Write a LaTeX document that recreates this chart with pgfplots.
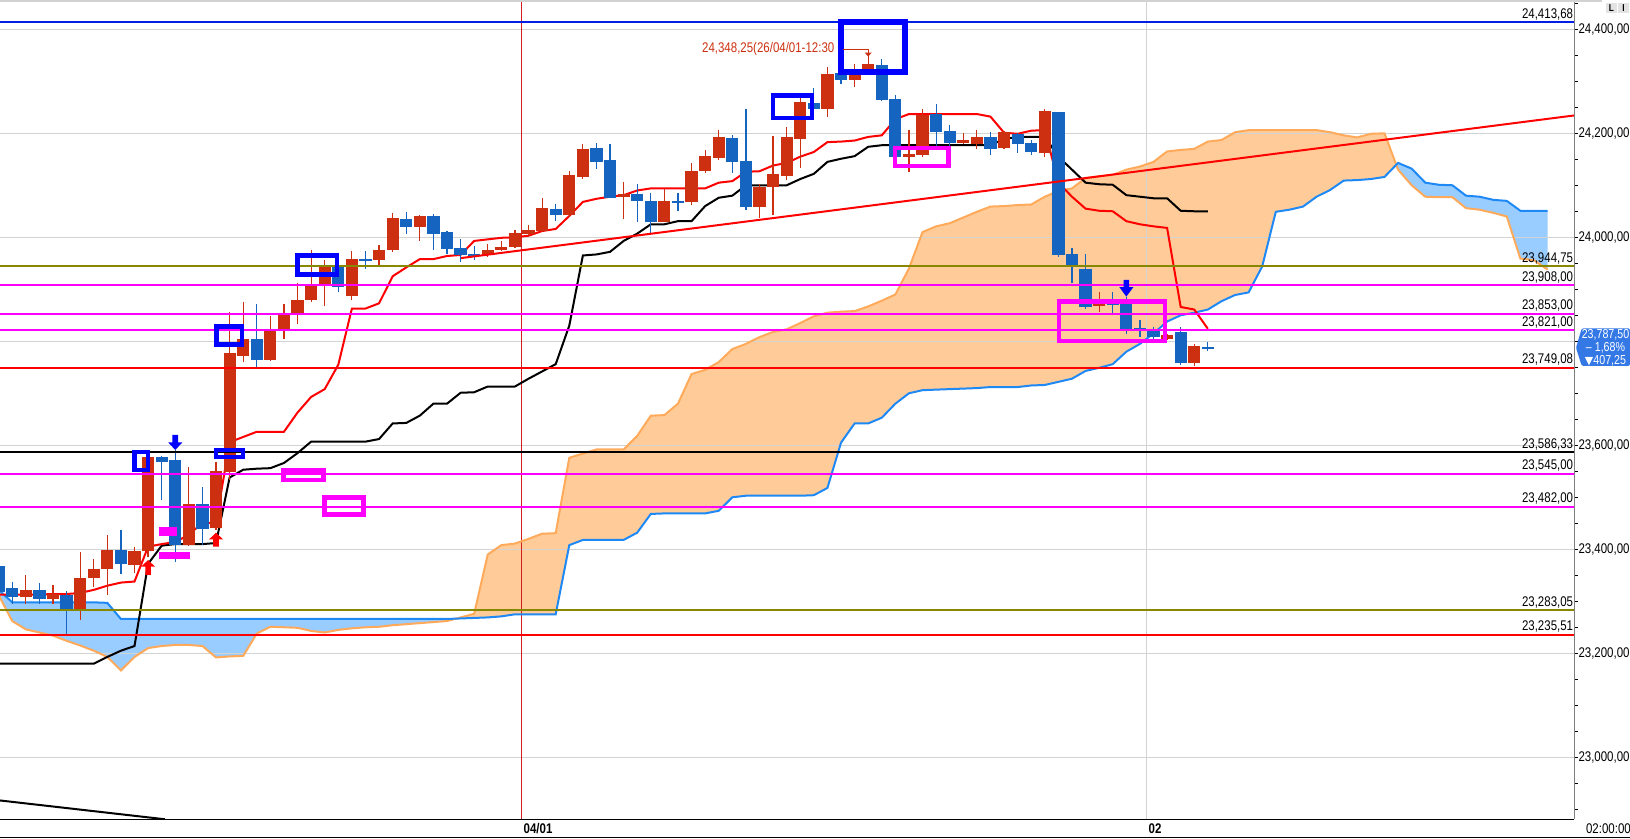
\documentclass[border=0pt]{standalone}
\usepackage{fontspec}
\setmainfont{Liberation Sans}[FakeStretch=0.82]
\newfontfamily\symfont{DejaVu Sans}
\usepackage{pgfplots}
\pgfplotsset{compat=1.18}
\usepackage{pgfplotstable}
\usepgfplotslibrary{fillbetween}

\definecolor{upred}{RGB}{204,48,16}
\definecolor{dnblue}{RGB}{21,101,192}
\definecolor{spanbline}{RGB}{30,136,245}
\definecolor{spanbfill}{RGB}{153,204,255}
\definecolor{spanaline}{RGB}{255,170,90}
\definecolor{spanafill}{RGB}{255,204,153}
\definecolor{lvolive}{RGB}{136,136,0}
\definecolor{lvmag}{RGB}{255,0,255}
\definecolor{lvblue}{RGB}{0,30,230}
\definecolor{lvred}{RGB}{255,0,0}
\definecolor{gridgray}{RGB}{211,211,211}
\definecolor{tagblue}{RGB}{52,120,230}
\definecolor{boxblue}{RGB}{0,0,255}
\definecolor{dayred}{RGB}{210,30,30}

\newcommand{\lab}{\fontsize{7}{8}\selectfont}
\newcommand{\tagf}{\fontsize{6.5}{7}\selectfont}
\newcommand{\xL}{-38.9}
\newcommand{\xR}{76.97}
\newcommand{\yB}{22880.8}
\newcommand{\yT}{24456.3}

% 30-minute candles, j = bar index (0 = first bar of 04/01)
\pgfplotstableread{
j o h l c
-37 23308 23351 23295 23322
-35 23304 23331 23295 23314
-33 23283 23395 23264 23344
-32 23344 23381 23327 23362
-31 23362 23428 23312 23399
-29 23370 23405 23354 23397
-28 23397 23582 23386 23578
-25 23408 23559 23406 23488
-23 23442 23568 23437 23551
-22 23549 23857 23533 23777
-21 23772 23876 23761 23804
-19 23764 23849 23762 23820
-18 23820 23872 23804 23854
-17 23854 23913 23833 23879
-16 23879 23976 23876 23907
-15 23907 23956 23868 23945
-13 23888 23974 23879 23958
-11 23956 23985 23947 23976
-10 23976 24047 23972 24038
-8 24020 24042 23993 24041
-3 23966 23988 23963 23976
-2 23976 23993 23974 23981
-1 23982 24014 23979 24009
0 24006 24024 24001 24014
1 24013 24075 24011 24057
3 24042 24128 24040 24120
4 24115 24179 24113 24170
7 24078 24107 24035 24084
10 24030 24092 24030 24070
12 24068 24142 24062 24127
13 24128 24167 24123 24156
14 24153 24206 24149 24192
17 24059 24102 24038 24097
18 24096 24195 24043 24122
19 24118 24213 24111 24192
20 24189 24270 24133 24261
22 24247 24328 24232 24315
24 24302 24333 24290 24320
25 24318 24348.25 24315 24334
28 24155 24206 24126 24160
29 24158 24246 24155 24236
32 24182 24201 24179 24187
33 24179 24206 24169 24193
35 24172 24205 24170 24203
38 24163 24247 24155 24242
42 23868 23894 23856 23874
47 23804 23815 23802 23813
49 23759 23795 23753 23791
}\upbars

\pgfplotstableread{
j o h l c
-39 23368 23372 23312 23318
-38 23325 23338 23295 23309
-36 23322 23336 23295 23304
-34 23312 23319 23238 23283
-30 23399 23438 23352 23371
-27 23578 23580 23495 23568
-26 23572 23591 23376 23408
-24 23487 23519 23408 23439
-20 23804 23872 23751 23764
-14 23945 23956 23895 23905
-12 23957 23974 23939 23955
-9 24035 24049 24006 24020
-7 24041 24044 23976 24006
-6 24010 24013 23968 23978
-5 23979 23996 23953 23966
-4 23967 23983 23956 23965
2 24054 24065 24031 24042
5 24171 24182 24131 24145
6 24149 24179 24075 24076
8 24083 24102 24030 24070
9 24070 24085 24006 24030
11 24069 24086 24051 24067
15 24190 24197 24124 24145
16 24147 24246 24052 24059
21 24258 24288 24242 24247
23 24315 24325 24295 24302
26 24331 24342 24262 24264
27 24266 24274 24152 24155
30 24237 24256 24175 24203
31 24204 24216 24171 24182
34 24193 24202 24158 24170
36 24198 24200 24162 24179
37 24182 24187 24158 24165
39 24240 24241 23963 23966
40 23968 23979 23913 23942
41 23940 23968 23863 23866
43 23872 23894 23854 23870
44 23873 23886 23815 23823
45 23825 23841 23809 23823
46 23822 23827 23802 23808
48 23817 23827 23754 23759
50 23788 23798 23782 23787.5
}\downbars

% cloud: a = orange span, b = blue span
\pgfplotstableread{
j a b
-39 23312 23322
-38 23262 23298
-37 23246 23298
-36 23240 23298
-35 23234 23298
-34 23224 23298
-33 23215 23298
-32 23205 23298
-31 23193 23297
-30 23167 23266
-29 23193 23266
-28 23210 23266
-27 23214 23266
-26 23216 23266
-25 23216 23266
-24 23214 23266
-23 23192 23266
-22 23194 23266
-21 23195 23266
-20 23238 23266
-19 23251 23266
-18 23250 23266
-17 23249 23266
-16 23243 23266
-15 23240 23266
-14 23245 23266
-13 23248 23266
-12 23250 23266
-11 23251 23266
-10 23254 23266
-9 23256 23266
-8 23258 23266
-7 23260 23266
-6 23262 23266
-5 23269 23267
-4 23276 23268
-3 23390 23269
-2 23408 23271
-1 23411 23275
0 23420 23275
1 23430 23275
2 23431 23275
3 23576 23408
4 23584 23418
5 23592 23418
6 23592 23418
7 23592 23418
8 23618 23432
9 23657 23468
10 23658 23469
11 23680 23469
12 23737 23469
13 23745 23469
14 23760 23474
15 23785 23500
16 23795 23503
17 23808 23503
18 23818 23503
19 23823 23503
20 23835 23503
21 23848 23504
22 23855 23518
23 23857 23605
24 23858 23642
25 23867 23642
26 23878 23653
27 23890 23680
28 23940 23700
29 24010 23706
30 24021 23707
31 24027 23708
32 24038 23709
33 24049 23710
34 24059 23712
35 24060 23712
36 24062 23712
37 24063 23715
38 24078 23716
39 24089 23722
40 24094 23728
41 24114 23743
42 24117 23749
43 24120 23756
44 24130 23780
45 24136 23795
46 24145 23815
47 24165 23838
48 24168 23850
49 24170 23855
50 24184 23861
51 24187 23877
52 24202 23889
53 24206 23894
54 24206 23944
55 24206 24049
56 24206 24053
57 24206 24059
58 24206 24078
59 24202 24091
60 24196 24109
61 24192 24110
62 24199 24112
63 24200 24116
64 24130 24143
65 24100 24132
66 24078 24105
67 24077 24101
68 24077 24100
69 24056 24080
70 24053 24078
71 24047 24072
72 24040 24070
73 23959 24051
74 23956 24051
75 23938 24051
}\cloud

% t = red line, k = black line
\pgfplotstableread{
j t k
-39 23313 23180
-38 23313 23180
-37 23313 23180
-36 23313 23180
-35 23314 23180
-34 23314 23180
-33 23316 23180
-32 23322 23180
-31 23330 23193
-30 23336 23205
-29 23338 23214
-28 23405 23372
-27 23410 23407
-26 23414 23410
-25 23428 23410
-24 23451 23410
-23 23451 23412
-22 23606 23538
-21 23616 23553
-20 23626 23555
-19 23626 23556
-18 23626 23566
-17 23663 23585
-16 23693 23607
-15 23708 23607
-14 23755 23607
-13 23863 23607
-12 23863 23607
-11 23873 23612
-10 23925 23642
-9 23942 23643
-8 23958 23657
-7 23958 23680
-6 23964 23680
-5 23966 23701
-4 23993 23702
-3 23996 23713
-2 23999 23713
-1 24000 23713
0 24003 23728
1 24012 23742
2 24016 23756
3 24041 23830
4 24068 23965
5 24074 23967
6 24078 23972
7 24081 23993
8 24090 24007
9 24094 24025
10 24094 24025
11 24094 24031
12 24094 24031
13 24094 24060
14 24105 24076
15 24108 24080
16 24126 24100
17 24127 24100
18 24138 24100
19 24143 24100
20 24155 24112
21 24164 24122
22 24183 24145
23 24184 24151
24 24186 24156
25 24193 24174
26 24196 24177
27 24227 24177
28 24237 24177
29 24237 24177
30 24237 24177
31 24237 24177
32 24237 24177
33 24237 24177
34 24232 24177
35 24201 24189
36 24199 24193
37 24205 24193
38 24206 24193
39 24105 24155
40 24078 24130
41 24055 24105
42 24051 24102
43 24050 24101
44 24031 24081
45 24025 24078
46 24021 24075
47 24018 24075
48 23866 24051
49 23861 24050
50 23824 24050
}\ichi

\pgfplotsset{
  wick/.style={draw=none, mark=none, forget plot,
    error bars/.cd, y dir=both, y explicit, error mark=none,
    error bar style={draw=#1, line width=0.6pt}},
  body/.style={draw=none, mark=none, forget plot,
    error bars/.cd, y dir=both, y explicit, error mark=none,
    error bar style={draw=#1, line width=6.1pt}},
}

\newcommand{\level}[3]{%
  \addplot[#2, line width=0.9pt, forget plot] coordinates {(\xL,#1) (\xR,#1)};
  \node[anchor=south east, font=\lab, inner sep=0.4pt, yshift=0.5pt] at (axis cs:\xR,#1) {#3};
}
\newcommand{\hgrid}[1]{%
  \addplot[gridgray, line width=0.5pt, forget plot] coordinates {(\xL,#1) (\xR,#1)};
}

\begin{document}
\begin{tikzpicture}
\begin{axis}[
  scale only axis, width=787.15pt, height=409.65pt,
  xmin=\xL, xmax=\xR, ymin=\yB, ymax=\yT,
  clip mode=individual,
  axis line style={draw=none},
  xtick=\empty,
  ytick={23000,23200,23400,23600,24000,24200,24400},
  minor ytick={22900,22950,23050,23100,23150,23250,23300,23350,23450,23500,23550,23650,23700,23750,23800,23850,23900,23950,24050,24100,24150,24250,24300,24350,24450},
  ytick pos=right, yticklabel pos=right,
  tick align=outside,
  major tick length=1.6pt, minor tick length=1.6pt,
  tick style={black, line width=0.5pt},
  scaled y ticks=false,
  yticklabel style={font=\lab, anchor=west, inner sep=0.3pt,
    /pgf/number format/.cd, fixed, fixed zerofill, precision=2,
    use comma, 1000 sep={,}, assume math mode=true},
]
% cloud
\addplot[name path=spanA, draw=none, forget plot] table[x=j, y=a] {\cloud};
\addplot[name path=spanB, draw=none, forget plot] table[x=j, y=b] {\cloud};
\addplot[fill=spanbfill, draw=none, forget plot] fill between[of=spanB and spanA, soft clip={domain=-39:-5.33}];
\addplot[fill=spanafill, draw=none, forget plot] fill between[of=spanA and spanB, soft clip={domain=-5.33:63.87}];
\addplot[fill=spanbfill, draw=none, forget plot] fill between[of=spanB and spanA, soft clip={domain=63.87:75}];

% grid
\hgrid{23000}\hgrid{23200}\hgrid{23400}\hgrid{23600}
\hgrid{23800}\hgrid{24000}\hgrid{24200}\hgrid{24400}
\addplot[gridgray, line width=0.5pt, forget plot] coordinates {(45.5,\yB) (45.5,\yT)};
\addplot[dayred, line width=0.5pt, forget plot] coordinates {(-0.5,\yB) (-0.5,\yT)};

% cloud edges and lines
\addplot[spanaline, line width=1pt, forget plot] table[x=j, y=a] {\cloud};
\addplot[spanbline, line width=1pt, forget plot] table[x=j, y=b] {\cloud};
\addplot[black, line width=1pt, forget plot] table[x=j, y=k] {\ichi};
\addplot[red, line width=1pt, forget plot] table[x=j, y=t] {\ichi};

% candles
\addplot[wick=upred] table[x=j, y expr={(\thisrow{h}+\thisrow{l})/2}, y error expr={(\thisrow{h}-\thisrow{l})/2}] {\upbars};
\addplot[body=upred] table[x=j, y expr={(\thisrow{o}+\thisrow{c})/2}, y error expr={max(abs(\thisrow{c}-\thisrow{o})/2,1.5)}] {\upbars};
\addplot[wick=dnblue] table[x=j, y expr={(\thisrow{h}+\thisrow{l})/2}, y error expr={(\thisrow{h}-\thisrow{l})/2}] {\downbars};
\addplot[body=dnblue] table[x=j, y expr={(\thisrow{o}+\thisrow{c})/2}, y error expr={max(abs(\thisrow{c}-\thisrow{o})/2,1.5)}] {\downbars};

% trend lines
\addplot[red, line width=1pt, forget plot] coordinates {(-4.97,23960) (\xR,24234.3)};
\addplot[black, line width=1pt, forget plot] coordinates {(\xL,22917) (-26.75,\yB)};

% price levels
\level{24413.68}{lvblue}{24,413,68}
\level{23944.75}{lvolive}{23,944,75}
\level{23908}{lvmag}{23,908,00}
\level{23853}{lvmag}{23,853,00}
\level{23821}{lvmag}{23,821,00}
\level{23749.08}{lvred}{23,749,08}
\level{23586.33}{black}{23,586,33}
\level{23545}{lvmag}{23,545,00}
\level{23482}{lvmag}{23,482,00}
\level{23283.05}{lvolive}{23,283,05}
\level{23235.51}{lvred}{23,235,51}

% marked boxes
\addplot[boxblue, line width=3pt, forget plot] coordinates {(23.0,24414.0) (27.71,24414.0) (27.71,24317.8) (23.0,24317.8)} -- cycle;
\addplot[boxblue, line width=2.25pt, forget plot] coordinates {(18.0,24272.7) (20.87,24272.7) (20.87,24229.8) (18.0,24229.8)} -- cycle;
\addplot[boxblue, line width=2.25pt, forget plot] coordinates {(-17.02,23965.3) (-14.09,23965.3) (-14.09,23928.6) (-17.02,23928.6)} -- cycle;
\addplot[boxblue, line width=2.25pt, forget plot] coordinates {(-22.98,23828.8) (-21.09,23828.8) (-21.09,23794.0) (-22.98,23794.0)} -- cycle;
\addplot[boxblue, line width=2.25pt, forget plot] coordinates {(-28.99,23586.7) (-28.02,23586.7) (-28.02,23552.3) (-28.99,23552.3)} -- cycle;
\addplot[boxblue, line width=2pt, forget plot] coordinates {(-23.0,23590.3) (-21.04,23590.3) (-21.04,23577.6) (-23.0,23577.6)} -- cycle;
\addplot[lvmag, line width=2.25pt, forget plot] coordinates {(26.99,24171.7) (30.90,24171.7) (30.90,24137.1) (26.99,24137.1)} -- cycle;
\addplot[lvmag, line width=2.25pt, forget plot] coordinates {(39.05,23876.9) (46.85,23876.9) (46.85,23800.6) (39.05,23800.6)} -- cycle;
\addplot[lvmag, line width=2.25pt, forget plot] coordinates {(-18.05,23551.3) (-15.09,23551.3) (-15.09,23533.3) (-18.05,23533.3)} -- cycle;
\addplot[lvmag, line width=2.25pt, forget plot] coordinates {(-15.0,23500.0) (-12.13,23500.0) (-12.13,23467.1) (-15.0,23467.1)} -- cycle;
\addplot[fill=lvmag, draw=none, forget plot] coordinates {(-27.19,23426.2) (-25.87,23426.2) (-25.87,23443.5) (-27.19,23443.5)} -- cycle;
\addplot[fill=lvmag, draw=none, forget plot] coordinates {(-27.19,23380.7) (-24.91,23380.7) (-24.91,23394.8) (-27.19,23394.8)} -- cycle;

% signal arrows
\addplot[fill=boxblue, draw=none, forget plot] coordinates {(-26.206,23620) (-25.794,23620) (-25.794,23605.4) (-25.485,23605.4) (-26,23591) (-26.515,23605.4) (-26.206,23605.4)} -- cycle;
\addplot[fill=boxblue, draw=none, forget plot] coordinates {(43.794,23918) (44.206,23918) (44.206,23904) (44.515,23904) (44,23886) (43.485,23904) (43.794,23904)} -- cycle;
\addplot[fill=lvred, draw=none, forget plot] coordinates {(-28.206,23350.6) (-27.794,23350.6) (-27.794,23366.5) (-27.485,23366.5) (-28,23379.4) (-28.515,23366.5) (-28.206,23366.5)} -- cycle;
\addplot[fill=lvred, draw=none, forget plot] coordinates {(-23.206,23405) (-22.794,23405) (-22.794,23419) (-22.485,23419) (-23,23432) (-23.515,23419) (-23.206,23419)} -- cycle;

% high annotation
\addplot[upred, line width=0.6pt, forget plot] coordinates {(23.15,24361.5) (25,24361.5) (25,24354)};
\addplot[fill=upred, draw=none, forget plot] coordinates {(24.75,24355) (25.25,24355) (25,24347.5)} -- cycle;
\node[anchor=west, font=\lab, text=upred, inner sep=0pt] at (axis cs:12.75,24361.7) {24,348,25(26/04/01-12:30};

% date labels
\node[anchor=west, font=\lab\bfseries, inner sep=0pt] at ([xshift=0.8pt,yshift=-4.6pt]axis cs:-0.5,\yB) {04/01};
\node[anchor=west, font=\lab\bfseries, inner sep=0pt] at ([xshift=0.8pt,yshift=-4.6pt]axis cs:45.5,\yB) {02};

\coordinate (tagpt) at (axis cs:\xR,23787.5);
\coordinate (tl) at (rel axis cs:0,1);
\coordinate (bl) at (rel axis cs:0,0);
\coordinate (br) at (rel axis cs:1,0);
\coordinate (tr) at (rel axis cs:1,1);
\end{axis}

% frame
\draw[gray, line width=0.5pt] (br) -- (tr);
\draw[black, line width=0.5pt] (bl) -- (br);
\draw[black, line width=0.5pt] ([yshift=-9pt]bl) -- ++(815pt,0);
\draw[gray!35, line width=0.8pt] ([yshift=-0.4pt]tl) -- ++(801pt,0);
\node[anchor=west, font=\lab, inner sep=0pt] at ([xshift=5.7pt,yshift=-4.6pt]br) {02:00:00};

% current price tag
\fill[tagblue, rounded corners=0.8pt] ([xshift=0.85pt]tagpt) -- ([xshift=3.7pt,yshift=9.75pt]tagpt) -- ([xshift=27.85pt,yshift=9.75pt]tagpt) -- ([xshift=27.85pt,yshift=-9.1pt]tagpt) -- ([xshift=3.7pt,yshift=-9.1pt]tagpt) -- cycle;
\node[white, font=\tagf, inner sep=0pt] at ([xshift=15.6pt,yshift=6.3pt]tagpt) {23,787,50};
\node[white, font=\tagf, inner sep=0pt] at ([xshift=15.6pt,yshift=0pt]tagpt) {– 1,68\%};
\node[white, font=\tagf, inner sep=0pt] at ([xshift=15.6pt,yshift=-6.3pt]tagpt) {{\symfont\fontsize{5.5}{6}\selectfont ▼}407,25};

% window buttons
\fill[gray!22] ([xshift=803pt,yshift=-6.5pt]tl) rectangle ([xshift=808.4pt,yshift=-1.5pt]tl);
\fill[gray!22] ([xshift=809pt,yshift=-6.5pt]tl) rectangle ([xshift=814.4pt,yshift=-1.5pt]tl);
\node[font=\fontsize{5}{5}\selectfont\bfseries, inner sep=0pt] at ([xshift=805.7pt,yshift=-4pt]tl) {L};
\node[font=\fontsize{5}{5}\selectfont\bfseries, inner sep=0pt] at ([xshift=811.7pt,yshift=-4pt]tl) {I};

\pgfresetboundingbox
\path[use as bounding box] (0,-9.85pt) rectangle (815pt,409.65pt);
\end{tikzpicture}
\end{document}
